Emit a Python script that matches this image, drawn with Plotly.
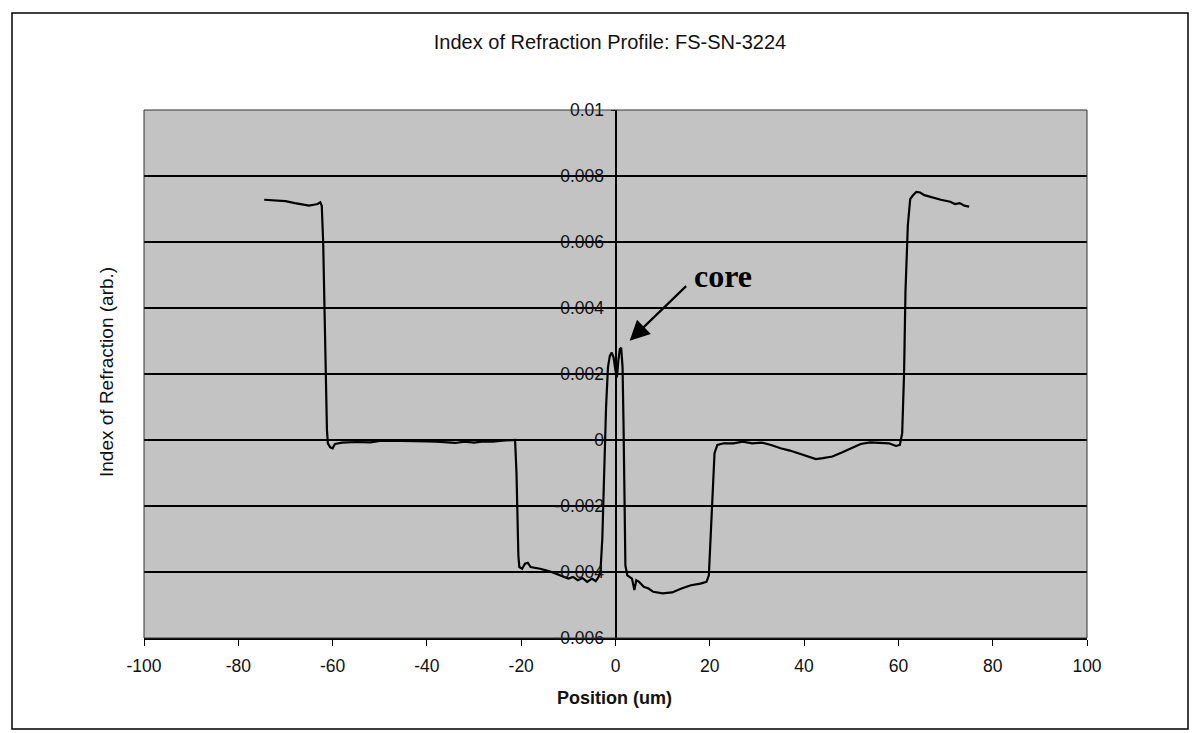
import plotly.graph_objects as go

# ---- data ----
positions = [
    -74.5, -72, -70, -68, -66, -65, -64, -63.2, -62.6, -62.3, -62.0, -61.7, -61.5, -61.2, -61.0,
    -60.5, -60.0, -59.5, -58, -55, -52, -50, -48, -45, -42, -40, -38, -36, -34, -32, -30, -28,
    -26, -24, -22, -21.3, -21.0, -20.8, -20.6, -20.4, -19.8, -19.2, -18.6, -18.0, -16, -14, -12,
    -10, -9, -8, -7, -6, -5, -4.2, -3.6, -3.2, -2.8, -2.4, -2.0, -1.6, -1.2, -0.8, -0.4, 0.0,
    0.3, 0.6, 0.9, 1.2, 1.5, 1.7, 1.9, 2.1, 2.5, 3.0, 3.5, 4.0, 4.4, 5, 6, 7, 8, 10, 12, 14, 16,
    18, 19.3, 19.8, 20.2, 20.6, 21.0, 21.6, 23, 25, 27, 29, 31, 33, 35, 37, 39, 41, 42.5, 44, 46,
    48, 50, 52, 54, 56, 58, 59.5, 60.3, 60.8, 61.2, 61.5, 62, 62.5, 63, 63.8, 64.6, 65.5, 67, 69,
    71, 72, 73, 74, 75,
]
index_values = [
    0.00728, 0.00727, 0.00724, 0.00718, 0.00712, 0.00710, 0.00713, 0.00715, 0.00720, 0.00710,
    0.00600, 0.00400, 0.00200, 0.00030, -0.00010, -0.00022, -0.00025, -0.00012, -0.00008,
    -0.00006, -0.00007, -0.00003, -0.00002, -0.00002, -0.00003, -0.00004, -0.00005, -0.00007,
    -0.00009, -0.00005, -0.00008, -0.00004, -0.00005, -0.00002, -0.00001, 0.00000, -0.00100,
    -0.00250, -0.00350, -0.00385, -0.00390, -0.00375, -0.00372, -0.00385, -0.00390, -0.00398,
    -0.00410, -0.00420, -0.00415, -0.00425, -0.00418, -0.00430, -0.00420, -0.00428, -0.00415,
    -0.00400, -0.00300, -0.00100, 0.00100, 0.00220, 0.00255, 0.00265, 0.00250, 0.00210, 0.00190,
    0.00240, 0.00275, 0.00280, 0.00220, 0.00050, -0.00200, -0.00380, -0.00410, -0.00415,
    -0.00420, -0.00455, -0.00425, -0.00430, -0.00445, -0.00450, -0.00460, -0.00465, -0.00462,
    -0.00450, -0.00440, -0.00435, -0.00430, -0.00410, -0.00300, -0.00150, -0.00040, -0.00015,
    -0.00010, -0.00010, -0.00005, -0.00010, -0.00008, -0.00015, -0.00025, -0.00032, -0.00042,
    -0.00052, -0.00058, -0.00055, -0.00050, -0.00038, -0.00025, -0.00012, -0.00007, -0.00008,
    -0.00010, -0.00018, -0.00015, 0.00020, 0.00200, 0.00450, 0.00650, 0.00730, 0.00740, 0.00752,
    0.00750, 0.00742, 0.00735, 0.00728, 0.00722, 0.00715, 0.00718, 0.00710, 0.00707,
]

x_ticks = [-100, -80, -60, -40, -20, 0, 20, 40, 60, 80, 100]
x_tick_labels = ["-100", "-80", "-60", "-40", "-20", "0", "20", "40", "60", "80", "100"]
y_ticks = [-0.006, -0.004, -0.002, 0, 0.002, 0.004, 0.006, 0.008, 0.01]
y_tick_labels = ["-0.006", "-0.004", "-0.002", "0", "0.002", "0.004", "0.006", "0.008", "0.01"]

title_text = "Index of Refraction Profile: FS-SN-3224"
x_title = "Position (um)"
y_title = "Index of Refraction (arb.)"
annot_text = "core"

# ---- layout geometry (pixels) ----
W, H = 1192, 733
L, R, T, B = 144, 105, 110, 95
PW, PH = W - L - R, H - T - B


def px_to_paper_x(px):
    return (px - L) / PW


def px_to_paper_y(py):
    return (H - B - py) / PH


FONT = "Liberation Sans, Arial, sans-serif"
TXT = "#111111"

fig = go.Figure(
    go.Scatter(
        x=positions,
        y=index_values,
        mode="lines",
        line=dict(color="black", width=2.2),
        showlegend=False,
        hoverinfo="x+y",
    )
)

fig.update_layout(
    width=W,
    height=H,
    margin=dict(l=L, r=R, t=T, b=B, pad=0),
    paper_bgcolor="white",
    plot_bgcolor="#c3c3c3",
    font=dict(family=FONT, color=TXT, size=15),
    title=dict(
        text=title_text,
        x=610 / W,
        xanchor="center",
        y=1 - 42 / H,
        yanchor="middle",
        xref="container",
        yref="container",
        font=dict(family=FONT, size=20, color=TXT),
    ),
    xaxis=dict(
        range=[-100, 100],
        tickvals=x_ticks,
        ticktext=x_tick_labels,
        ticks="outside",
        ticklen=6,
        tickwidth=1,
        tickcolor="black",
        showgrid=False,
        zeroline=True,
        zerolinecolor="black",
        zerolinewidth=1,
        showline=True,
        linecolor="black",
        linewidth=1.5,
        tickfont=dict(family=FONT, size=17.5, color=TXT),
        ticklabelstandoff=5,
        fixedrange=True,
    ),
    yaxis=dict(
        range=[-0.006, 0.01],
        tickvals=y_ticks,
        ticktext=y_tick_labels,
        anchor="free",
        position=0.5,
        ticks="outside",
        ticklen=5,
        tickwidth=1,
        tickcolor="black",
        showline=True,
        linecolor="black",
        linewidth=1,
        showgrid=True,
        gridcolor="black",
        gridwidth=1.5,
        zeroline=False,
        tickfont=dict(family=FONT, size=17.5, color=TXT),
        ticklabelstandoff=3,
        fixedrange=True,
    ),
)

# plot-area frame and outer chart border
fig.add_shape(type="rect", xref="paper", yref="paper", x0=0, x1=1, y0=0, y1=1,
              line=dict(color="#333333", width=1), layer="above")
fig.add_shape(type="rect", xref="paper", yref="paper",
              x0=px_to_paper_x(12), x1=px_to_paper_x(1188),
              y0=px_to_paper_y(729), y1=px_to_paper_y(13),
              line=dict(color="black", width=1.5))

# axis titles
fig.add_annotation(text=x_title, xref="paper", yref="paper",
                   x=px_to_paper_x(614), y=px_to_paper_y(698),
                   xanchor="center", yanchor="middle", showarrow=False,
                   font=dict(family=FONT, size=18, color=TXT, weight="bold"))
fig.add_annotation(text=y_title, xref="paper", yref="paper",
                   x=px_to_paper_x(106), y=px_to_paper_y(372),
                   xanchor="center", yanchor="middle", showarrow=False, textangle=-90,
                   font=dict(family=FONT, size=19, color=TXT))

# "core" arrow + label
fig.add_annotation(text="", x=3.0, y=0.00301, xref="x", yref="y",
                   ax=58, ay=-56, axref="pixel", ayref="pixel",
                   showarrow=True, arrowhead=2, arrowsize=1.8, arrowwidth=2.2,
                   arrowcolor="black")
fig.add_annotation(text=annot_text, x=22.9, y=0.00496, xref="x", yref="y",
                   showarrow=False, xanchor="center", yanchor="middle",
                   font=dict(family="Liberation Serif, Times New Roman, serif", size=32,
                             color="black", weight="bold"))

fig.write_html("out.html", config={"displayModeBar": False},
               post_script="document.body.style.margin='0';")
